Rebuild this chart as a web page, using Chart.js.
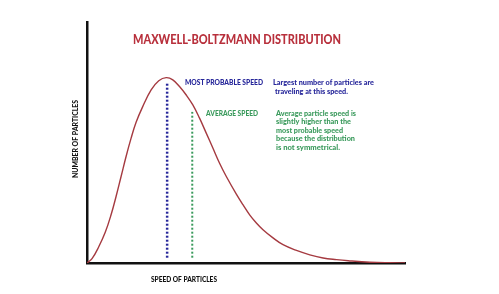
<!DOCTYPE html>
<html>
<head>
<meta charset="utf-8">
<script src="https://cdn.jsdelivr.net/npm/chart.js@4/dist/chart.umd.min.js"></script>
<style>
  html, body { margin: 0; padding: 0; background: #fff; }
  #wrap { width: 499px; height: 294px; }
</style>
</head>
<body>
<div id="wrap"><canvas id="mbChart"></canvas></div>
<script>
// speed (0-100 along the axis) and relative number of particles
const speeds = [0, 1.58, 3.66, 5.77, 7.57, 9.14, 10.72, 12.29, 13.87, 15.44, 17.52, 20.17, 22.57, 24.9,
  26.98, 29.09, 31.2, 33.28, 35.39, 37.5, 39.58, 41.69, 43.81, 46.96, 49.04, 51.15, 53.26, 55.34,
  58.49, 61.64, 65.87, 70.06, 74.25, 78.47, 82.13, 88.97, 95.27, 100];
const counts = [0, 1.78, 6.63, 12.85, 20.0, 27.6, 35.9, 44.2, 51.8, 58.4, 64.9, 71.8, 75.6, 76.9,
  76.0, 73.2, 69.7, 65.6, 60.1, 53.9, 47.7, 41.4, 35.9, 28.6, 24.2, 20.0, 16.6, 13.8,
  10.4, 7.6, 5.2, 3.4, 2.1, 1.4, 0.95, 0.33, 0.08, 0];

// marker lines: [speed, bottom, top]
const mostProbable = [25.2, 2.2, 75.1];
const average = [33.1, 2.2, 62.7];

const titleText = "MAXWELL-BOLTZMANN DISTRIBUTION";
const xTitle = "SPEED OF PARTICLES";
const yTitle = "NUMBER OF PARTICLES";
const mostProbableLabel = "MOST PROBABLE SPEED";
const mostProbableNote = ["Largest number of particles are", "traveling at this speed."];
const averageLabel = "AVERAGE SPEED";
const averageNote = ["Average particle speed is", "slightly higher than the", "most probable speed", "because the distribution", "is not symmetrical."];

const RED = "#b8303c";
const BLUE = "#26269a";
const GREEN = "#3a9a5c";

function vline(m) {
  return [{ x: m[0], y: m[1] }, { x: m[0], y: m[2] }];
}

// text drawn on top of the plot, squeezed to its width with maxWidth
function put(ctx, text, x, y, size, color, width, align) {
  ctx.font = "900 " + size + "px Lato";
  ctx.fillStyle = color;
  ctx.textAlign = align || "left";
  ctx.textBaseline = "middle";
  ctx.fillText(text, x, y, width);
}

const labels = {
  id: "labels",
  afterDraw(chart) {
    const ctx = chart.ctx;
    ctx.save();
    put(ctx, titleText, 237, 40, 13.5, RED, 208, "center");
    put(ctx, mostProbableLabel, 185, 82.5, 8, BLUE, 78);
    put(ctx, mostProbableNote[0], 273, 82.5, 8, BLUE, 101);
    put(ctx, mostProbableNote[1], 275, 91, 8, BLUE, 73);
    put(ctx, averageLabel, 206, 113, 8, GREEN, 52);
    const w = [80, 75, 67, 79, 64];
    averageNote.forEach((t, i) => put(ctx, t, 276, 113 + i * 8.6, 8, GREEN, w[i]));
    put(ctx, xTitle, 184, 280, 7.6, "#111", 66, "center");
    ctx.translate(76, 139);
    ctx.rotate(-Math.PI / 2);
    put(ctx, yTitle, 0, 0, 7.6, "#111", 78, "center");
    ctx.restore();
  }
};

new Chart(document.getElementById("mbChart"), {
  type: "line",
  data: {
    datasets: [{
      data: speeds.map((s, i) => ({ x: s, y: counts[i] })),
      borderColor: "#a53a40",
      borderWidth: 1.4,
      pointRadius: 0,
      tension: 0.4,
      fill: false
    }, {
      data: vline(mostProbable),
      borderColor: BLUE,
      borderWidth: 2.5,
      borderDash: [2, 2],
      pointRadius: 0
    }, {
      data: vline(average),
      borderColor: GREEN,
      borderWidth: 2,
      borderDash: [2, 2],
      pointRadius: 0
    }]
  },
  options: {
    responsive: true,
    maintainAspectRatio: false,
    animation: false,
    layout: { padding: { left: 87, right: 94, top: 22, bottom: 31 } },
    plugins: { legend: { display: false }, tooltip: { enabled: false } },
    scales: {
      x: {
        type: "linear", min: 0, max: 100,
        ticks: { display: false },
        grid: { display: false, drawTicks: false },
        border: { color: "#111", width: 2.5 }
      },
      y: {
        min: 0, max: 100,
        ticks: { display: false },
        grid: { display: false, drawTicks: false },
        border: { color: "#111", width: 2.5 }
      }
    }
  },
  plugins: [labels]
});
</script>
</body>
</html>
